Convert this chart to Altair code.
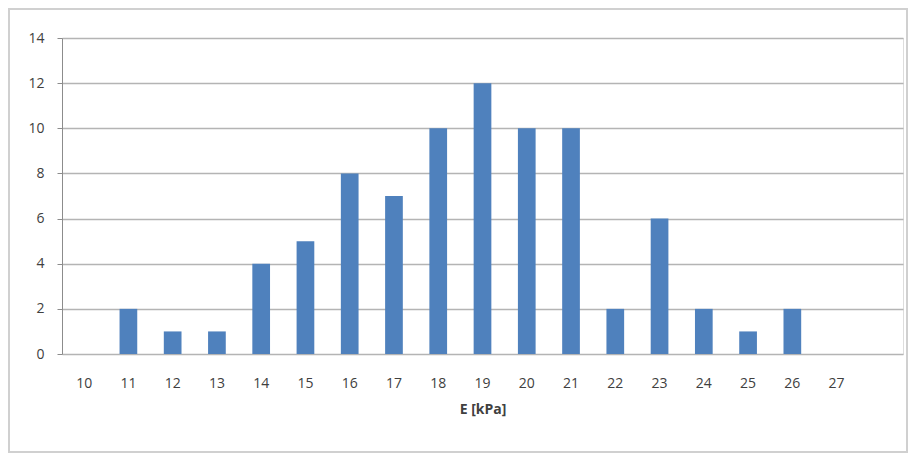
import altair as alt
import pandas as pd

categories = ["10", "11", "12", "13", "14", "15", "16", "17", "18",
              "19", "20", "21", "22", "23", "24", "25", "26", "27"]
counts = [0, 2, 1, 1, 4, 5, 8, 7, 10, 12, 10, 10, 2, 6, 2, 1, 2, 0]
y_ticks = [0, 2, 4, 6, 8, 10, 12, 14]
x_title = "E [kPa]"

df = pd.DataFrame({"E": categories, "n": counts})
domain = categories + [" "]

W, H = 841, 316
PL, PT, PR, PB = 54, 30, 5, 99
FONT = "Open Sans"

bars = alt.Chart(df).mark_bar(color="#4F81BD").encode(
    x=alt.X("E:N", sort=domain,
            scale=alt.Scale(domain=domain, paddingInner=0.6, paddingOuter=0.3),
            axis=alt.Axis(title=x_title, labelAngle=0, ticks=False, domain=False,
                          labelPadding=22, titlePadding=12, labelFontSize=14,
                          titleFontSize=14, titleFontWeight="bold",
                          labelColor="#404040", titleColor="#404040",
                          labelFont=FONT, titleFont=FONT)),
    y=alt.Y("n:Q", scale=alt.Scale(domain=[0, 14], nice=False),
            axis=alt.Axis(title=None, values=y_ticks, grid=True, gridColor="#b4b4b4",
                          gridWidth=1.3, domainColor="#8c8c8c", tickColor="#8c8c8c",
                          tickSize=5, labelPadding=13, labelFontSize=14,
                          labelColor="#404040", labelFont=FONT)),
)

frame = alt.Chart(df).mark_rect(fill=None, stroke="#d0d0d0", strokeWidth=1.5).encode(
    x=alt.value(-PL + 1), x2=alt.value(W + PR - 1),
    y=alt.value(-PT + 1), y2=alt.value(H + PB - 1),
)

chart = alt.layer(bars, frame).properties(
    width=W, height=H,
    padding={"left": PL, "top": PT, "right": PR, "bottom": PB},
    autosize=alt.AutoSizeParams(type="none"),
).configure_view(stroke=None).configure(background="white")

chart.save("out.html", embed_options={"renderer": "svg", "actions": False})
